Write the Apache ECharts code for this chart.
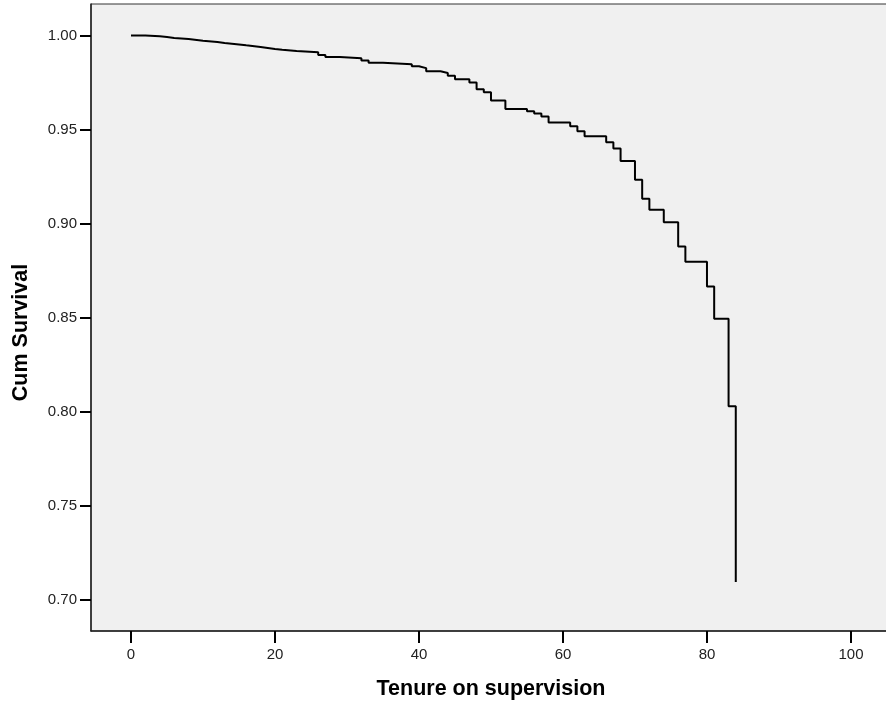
<!DOCTYPE html>
<html>
<head>
<meta charset="utf-8">
<script src="https://cdn.jsdelivr.net/npm/echarts@6/dist/echarts.min.js"></script>
<style>
  html, body { margin: 0; padding: 0; background: #ffffff; }
  #chart { width: 886px; height: 706px; }
</style>
</head>
<body>
<div id="chart"></div>
<script>
// Kaplan-Meier survival function: event times (months) and survival after each event
const eventTimes = [0, 2, 4, 5, 6, 8, 10, 12, 13, 15, 16, 18, 19, 20, 21, 23, 26, 27, 29, 32, 33, 35,
  39, 40, 41, 43, 44, 45, 47, 48, 49, 50, 52, 55, 56, 57, 58, 61, 62, 63, 66, 67, 68, 70, 71, 72,
  74, 76, 77, 80, 81, 83, 84];
const cumSurvival = [1.0000, 0.9995, 0.9991, 0.9986, 0.9981, 0.9972, 0.9965, 0.9960, 0.9952, 0.9947,
  0.9938, 0.9933, 0.9928, 0.9924, 0.9917, 0.9910, 0.9896, 0.9885, 0.9878, 0.9867, 0.9855, 0.9847,
  0.9836, 0.9826, 0.9809, 0.9800, 0.9786, 0.9767, 0.9750, 0.9714, 0.9697, 0.9654, 0.9609, 0.9597,
  0.9584, 0.9569, 0.9537, 0.9517, 0.9490, 0.9463, 0.9432, 0.9399, 0.9332, 0.9232, 0.9131, 0.9072,
  0.9006, 0.8877, 0.8796, 0.8665, 0.8493, 0.8027, 0.7093];

const xTicks = [0, 20, 40, 60, 80, 100];
const yTicks = [0.70, 0.75, 0.80, 0.85, 0.90, 0.95, 1.00];

const font = '"Liberation Sans", Arial, sans-serif';
const curve = eventTimes.map((t, i) => [t, cumSurvival[i]]);

const chart = echarts.init(document.getElementById('chart'), null, { renderer: 'canvas' });
chart.setOption({
  animation: false,
  backgroundColor: '#ffffff',
  grid: {
    left: 91, top: 4, right: -5, bottom: 75,
    outerBoundsMode: 'none', containLabel: false,
    show: true, backgroundColor: '#f0f0f0', borderColor: '#333333', borderWidth: 1
  },
  xAxis: {
    type: 'value',
    min: -5.556, max: 105.56,
    splitLine: { show: false },
    axisLine: { show: true, onZero: false, lineStyle: { color: '#222222', width: 1.5 } },
    axisTick: { show: true, length: 12, customValues: xTicks, lineStyle: { color: '#000', width: 2 } },
    axisLabel: { customValues: xTicks, margin: 16, color: '#222', fontFamily: font, fontSize: 15 },
    name: 'Tenure on supervision',
    nameLocation: 'middle', nameGap: 47,
    nameTextStyle: { fontFamily: font, fontWeight: 'bold', fontSize: 21.5, color: '#000' }
  },
  yAxis: {
    type: 'value',
    min: 0.6832, max: 1.0167,
    splitLine: { show: false },
    axisLine: { show: true, onZero: false, lineStyle: { color: '#222222', width: 1.5 } },
    axisTick: { show: true, length: 11, customValues: yTicks, lineStyle: { color: '#000', width: 2 } },
    axisLabel: {
      customValues: yTicks, margin: 14, color: '#222', fontFamily: font, fontSize: 15,
      formatter: v => v.toFixed(2)
    },
    name: 'Cum Survival',
    nameLocation: 'middle', nameGap: 59, nameRotate: 90,
    nameTextStyle: {
      fontFamily: font, fontWeight: 'bold', fontSize: 21.5, color: '#000',
      padding: [0, 30, 0, 0]
    }
  },
  series: [{
    type: 'line',
    step: 'end',
    data: curve,
    showSymbol: false,
    lineStyle: { color: '#000000', width: 2 },
    silent: true
  }]
});
</script>
</body>
</html>
